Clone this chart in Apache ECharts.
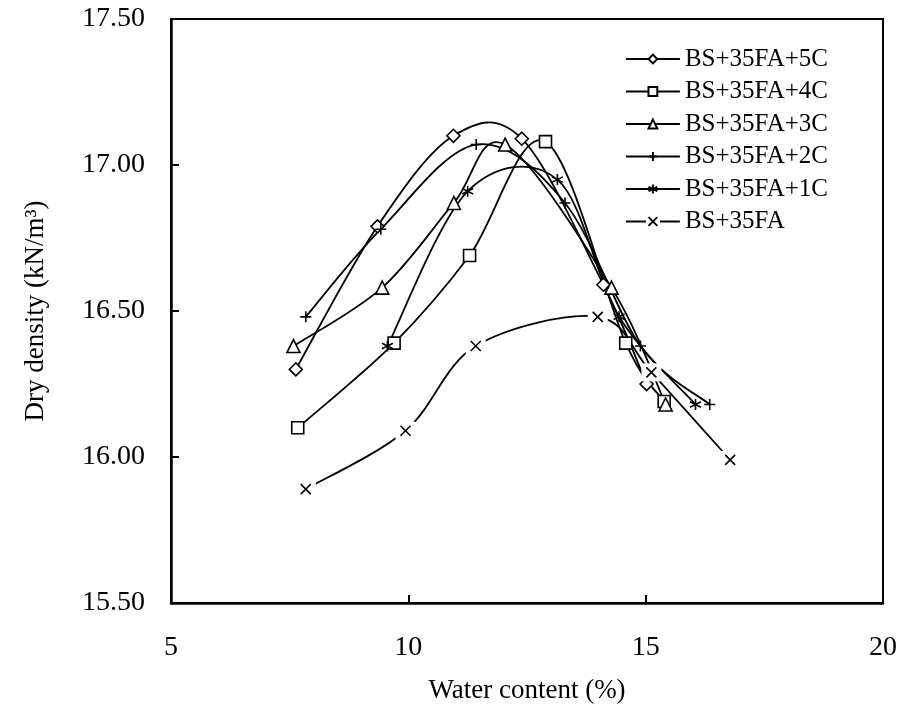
<!DOCTYPE html>
<html>
<head>
<meta charset="utf-8">
<title>Compaction curves</title>
<script src="https://cdn.jsdelivr.net/npm/echarts@6/dist/echarts.min.js"></script>
<style>
  html, body { margin: 0; padding: 0; background: #fff; }
  #chart { width: 904px; height: 720px; }
</style>
</head>
<body>
<div id="chart"></div>
<script>
// Water content (%) and dry density (kN/m3) for each mix
const seriesNames = ['BS+35FA+5C', 'BS+35FA+4C', 'BS+35FA+3C', 'BS+35FA+2C', 'BS+35FA+1C', 'BS+35FA'];

const water5C = [7.63, 9.35, 10.95, 12.39, 14.11, 15.02];
const density5C = [16.30, 16.79, 17.10, 17.09, 16.59, 16.25];

const water4C = [7.67, 9.70, 11.29, 12.89, 14.58, 15.39];
const density4C = [16.10, 16.39, 16.69, 17.08, 16.39, 16.19];

const water3C = [7.58, 9.45, 10.96, 12.04, 14.28, 15.42];
const density3C = [16.38, 16.58, 16.87, 17.07, 16.58, 16.18];

const water2C = [7.84, 9.42, 11.43, 13.30, 14.89, 16.35];
const density2C = [16.48, 16.78, 17.07, 16.87, 16.38, 16.18];

const water1C = [9.56, 11.25, 13.14, 14.44, 16.05];
const density1C = [16.38, 16.91, 16.95, 16.48, 16.18];

const water0C = [7.84, 9.94, 11.42, 13.99, 15.12, 16.78];
const density0C = [15.89, 16.09, 16.38, 16.48, 16.29, 15.99];

const xTicks = [5, 10, 15, 20];
const yTicks = [15.5, 16.0, 16.5, 17.0, 17.5];

const pairs = (xs, ys) => xs.map((x, i) => [x, ys[i]]);

const FONT = 'Liberation Serif';
const SYM_DIAMOND = 'path://M0,-1L1,0L0,1L-1,0Z';
const SYM_PLUS = 'path://M0,-5L0,5M-5,0L5,0';
const SYM_STAR = 'path://M0,-5L0,5M-4.33,-2.5L4.33,2.5M-4.33,2.5L4.33,-2.5';
const SYM_CROSS = 'path://M-5,-5L5,5M-5,5L5,-5';

const hollow = { color: '#fff', borderColor: '#000', borderWidth: 1.6, opacity: 1 };
const stroke = { color: '#000', borderColor: '#000', borderWidth: 1.6, opacity: 1 };
const LINE_W = 1.8;

// Smooth curve through the points of one mix: cubic Bezier segments with
// Catmull-Rom tangents, computed in pixel space from the axis scales.
function smoothCurve(name, xs, ys) {
  const data = pairs(xs, ys);
  return {
    name: name + ' curve',
    type: 'custom',
    coordinateSystem: 'cartesian2d',
    data: data,
    encode: { x: 0, y: 1 },
    z: 1,
    silent: true,
    animation: false,
    renderItem: function (params, api) {
      if (params.dataIndex !== 0) return null;
      const p = data.map(d => api.coord(d));
      const n = p.length;
      let d = 'M' + p[0][0] + ',' + p[0][1];
      for (let i = 0; i < n - 1; i++) {
        const p0 = p[Math.max(i - 1, 0)];
        const p1 = p[i];
        const p2 = p[i + 1];
        const p3 = p[Math.min(i + 2, n - 1)];
        const c1x = p1[0] + (p2[0] - p0[0]) / 6;
        const c1y = p1[1] + (p2[1] - p0[1]) / 6;
        const c2x = p2[0] - (p3[0] - p1[0]) / 6;
        const c2y = p2[1] - (p3[1] - p1[1]) / 6;
        d += ' C' + c1x + ',' + c1y + ' ' + c2x + ',' + c2y + ' ' + p2[0] + ',' + p2[1];
      }
      return {
        type: 'path',
        shape: { pathData: d },
        style: { fill: null, stroke: '#000', lineWidth: LINE_W }
      };
    }
  };
}

// Markers and legend entry of one mix (its curve is drawn by smoothCurve)
function markers(name, xs, ys, symbol, size, itemStyle) {
  return {
    name: name,
    type: 'line',
    data: pairs(xs, ys),
    symbol: symbol,
    symbolSize: size,
    showAllSymbol: true,
    itemStyle: itemStyle,
    lineStyle: { color: '#000', width: LINE_W, opacity: 0 },
    emphasis: { disabled: true },
    z: 2,
    animation: false
  };
}

const chart = echarts.init(document.getElementById('chart'), null, { renderer: 'canvas' });

const legendLine = { color: '#000', width: LINE_W, opacity: 1 };

chart.setOption({
  backgroundColor: '#fff',
  animation: false,
  grid: {
    left: 171, right: 21, top: 19, bottom: 117,
    show: true, borderColor: '#000', borderWidth: 2, backgroundColor: 'transparent'
  },
  legend: {
    orient: 'vertical',
    left: 620,
    top: 41,
    itemWidth: 54,
    itemHeight: 11,
    itemGap: 6.5,
    textStyle: { fontFamily: FONT, fontSize: 25, color: '#000', lineHeight: 26 },
    data: seriesNames.map(n => ({
      name: n,
      lineStyle: n === 'BS+35FA' ? Object.assign({ type: [20, 14] }, legendLine) : legendLine
    })),
    selectedMode: false
  },
  xAxis: {
    type: 'value',
    min: xTicks[0],
    max: xTicks[xTicks.length - 1],
    interval: 5,
    name: 'Water content (%)',
    nameLocation: 'middle',
    nameGap: 74,
    nameTextStyle: { fontFamily: FONT, fontSize: 27, color: '#000' },
    axisLine: { lineStyle: { color: '#000', width: 2.5 } },
    axisTick: { inside: true, length: 8, lineStyle: { color: '#000', width: 2 } },
    axisLabel: { margin: 31, fontFamily: FONT, fontSize: 28, color: '#000' },
    splitLine: { show: false }
  },
  yAxis: {
    type: 'value',
    min: yTicks[0],
    max: yTicks[yTicks.length - 1],
    interval: 0.5,
    name: 'Dry density (kN/m\u00B3)',
    nameLocation: 'middle',
    nameGap: 122,
    nameTextStyle: { fontFamily: FONT, fontSize: 27, color: '#000' },
    axisLine: { lineStyle: { color: '#000', width: 2.5 } },
    axisTick: { inside: true, length: 8, lineStyle: { color: '#000', width: 2 } },
    axisLabel: { margin: 26, fontFamily: FONT, fontSize: 28, color: '#000', formatter: v => v.toFixed(2) },
    splitLine: { show: false }
  },
  series: [
    smoothCurve(seriesNames[0], water5C, density5C),
    smoothCurve(seriesNames[1], water4C, density4C),
    smoothCurve(seriesNames[2], water3C, density3C),
    smoothCurve(seriesNames[3], water2C, density2C),
    smoothCurve(seriesNames[4], water1C, density1C),
    smoothCurve(seriesNames[5], water0C, density0C),
    markers(seriesNames[0], water5C, density5C, SYM_DIAMOND, 13, hollow),
    markers(seriesNames[1], water4C, density4C, 'rect', 12, hollow),
    markers(seriesNames[2], water3C, density3C, 'triangle', 13, hollow),
    markers(seriesNames[3], water2C, density2C, SYM_PLUS, 11, stroke),
    markers(seriesNames[4], water1C, density1C, SYM_STAR, 11, stroke),
    markers(seriesNames[5], water0C, density0C, SYM_CROSS, 10, stroke),
    // white boxes behind the cross markers, leaving gaps in the lines around them
    {
      name: 'mask',
      type: 'scatter',
      data: pairs(water0C, density0C),
      symbol: 'rect',
      symbolSize: [20, 18],
      itemStyle: { color: '#fff', borderWidth: 0, opacity: 1 },
      z: 3,
      silent: true,
      animation: false
    },
    {
      name: 'crossMarks',
      type: 'scatter',
      data: pairs(water0C, density0C),
      symbol: SYM_CROSS,
      symbolSize: 10,
      itemStyle: stroke,
      z: 4,
      silent: true,
      animation: false
    }
  ]
});
</script>
</body>
</html>
